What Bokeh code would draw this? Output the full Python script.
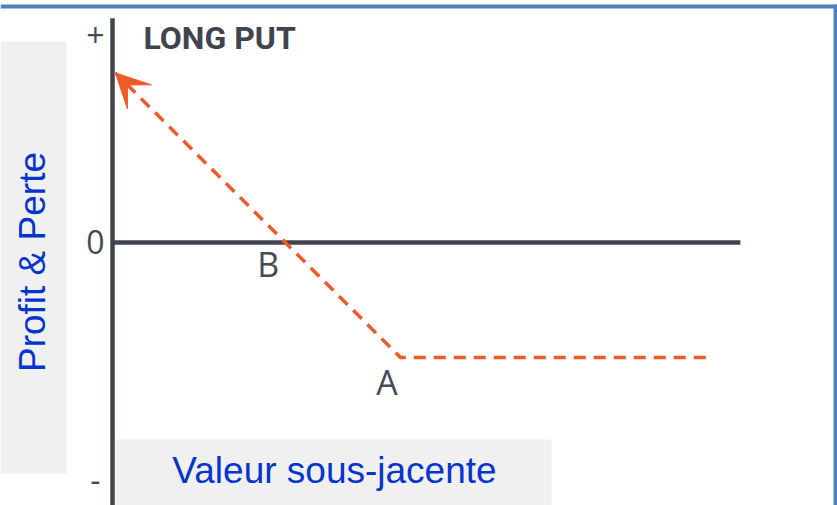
import math
from bokeh.plotting import figure
from bokeh.models import Range1d, ColumnDataSource, Arrow, VeeHead
from bokeh.core.properties import value
from bokeh.embed import file_html
from bokeh.resources import INLINE

# ---------------- data: payoff of a long put (schematic) ----------------
underlying = [206, 100, 60, 1]      # flat end, strike (A), break-even (B), arrow tip
profit = [-40, -40, 0, 59]
point_names = ["A", "B"]
point_x = [100, 60]
point_y = [-40, 0]
y_tick_values = [72, 0, -83]
y_tick_labels = ["+", "0", "-"]
x_axis_end = 218
y_axis_top = 78
y_axis_bottom = -95
title_text = "LONG PUT"
x_label = "Valeur sous-jacente"
y_label = "Profit & Perte"

# ---------------- layout / style ----------------
W, H, M = 837, 505, 0
ORIGIN_PX = (112, 242)
SCALE = (2.88, 2.875)


def xd(px):
    return (px - ORIGIN_PX[0]) / SCALE[0]


def yd(py):
    return (ORIGIN_PX[1] - py) / SCALE[1]


ORANGE = "#f05a28"
AXIS_COL = "#40444e"
LABEL_COL = "#464a54"
BLUE_TXT = "#0435cc"
BOX_COL = "#f0f0f0"
BORDER = "#4f81bd"

p = figure(width=W, height=H, x_range=Range1d(xd(M), xd(M + W)),
           y_range=Range1d(yd(M + H), yd(M)),
           output_backend="svg", toolbar_location=None, min_border=0,
           x_axis_type=None, y_axis_type=None, outline_line_color=None)
p.grid.visible = False
p.background_fill_color = "white"
p.border_fill_color = "white"

# frame border (top + right edges visible)
p.quad(left=[xd(0)], right=[xd(837)], top=[yd(4)], bottom=[yd(8)],
       fill_color=BORDER, line_color=None)
p.quad(left=[xd(833)], right=[xd(837)], top=[yd(4)], bottom=[yd(505)],
       fill_color=BORDER, line_color=None)

# grey label boxes
p.quad(left=[xd(0)], right=[xd(66)], top=[yd(41)], bottom=[yd(473)],
       fill_color=BOX_COL, line_color=None)
p.quad(left=[xd(114)], right=[xd(551)], top=[yd(439)], bottom=[yd(520)],
       fill_color=BOX_COL, line_color=None)

# axes
p.segment(x0=[0, 0], y0=[y_axis_bottom, 0], x1=[0, x_axis_end], y1=[y_axis_top, 0],
          line_width=4.5, line_color=AXIS_COL)

# payoff line (dashed) + arrow head
p.line(underlying, profit, line_color=ORANGE, line_width=3.5, line_dash="12 8")
p.add_layout(Arrow(end=VeeHead(size=34, fill_color=ORANGE, line_color=ORANGE, line_width=1),
                   x_start=underlying[2], y_start=profit[2],
                   x_end=underlying[3], y_end=profit[3], line_alpha=0))

# y tick labels
p.text(x=[0] * len(y_tick_values), y=y_tick_values, text=y_tick_labels,
       x_offset=-17, y_offset=-1, text_align="center", text_baseline="middle",
       text_font=value("Open Sans"), text_font_size="32px", text_color=LABEL_COL)

# point labels A / B
pt_src = ColumnDataSource(dict(x=point_x, y=point_y, text=point_names,
                               dx=[-13.5, -17], dy=[24, 21]))
p.text(x="x", y="y", text="text", x_offset="dx", y_offset="dy", source=pt_src,
       text_align="center", text_baseline="middle",
       text_font=value("Open Sans"), text_font_size="34px", text_color=LABEL_COL)

# title
p.text(x=[xd(143)], y=[yd(37)], text=[title_text], text_align="left",
       text_baseline="middle", text_font=value("Roboto"),
       text_font_style="bold", text_font_size="32px", text_color=AXIS_COL)

# axis titles
p.text(x=[xd(334)], y=[yd(470)], text=[x_label], text_align="center",
       text_baseline="middle", text_font=value("Liberation Sans"),
       text_font_size="37px", text_color=BLUE_TXT)
p.text(x=[xd(31.5)], y=[yd(261.5)], text=[y_label], angle=math.pi / 2,
       text_align="center", text_baseline="middle",
       text_font=value("Liberation Sans"), text_font_size="37px", text_color=BLUE_TXT)

open("out.html", "w").write(file_html(p, INLINE))
